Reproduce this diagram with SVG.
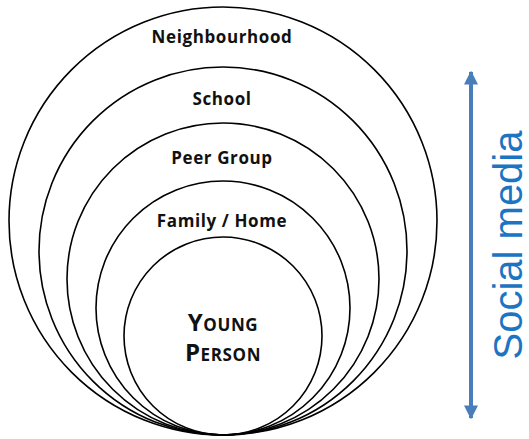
<svg xmlns="http://www.w3.org/2000/svg" width="529" height="439" viewBox="0 0 529 439">
<defs>
<style>
.ring{fill:none;stroke:#000;stroke-width:1.6}
.lbl{font-family:"Open Sans","DejaVu Sans",sans-serif;font-weight:700;font-size:17px;letter-spacing:0.6px;fill:#111;text-anchor:middle}
.sm{font-family:"Liberation Sans",Arial,sans-serif;font-size:40px;fill:#1b75c2;text-anchor:middle}
</style>
<marker id="ah" viewBox="0 0 10 10" refX="9" refY="5" markerWidth="3.5" markerHeight="3.5" orient="auto-start-reverse" markerUnits="strokeWidth">
<path d="M0,0 L10,5 L0,10 z" fill="#4a7ebb"/>
</marker>
</defs>
<rect width="529" height="439" fill="#fff"/>
<g id="neighbourhood"><circle class="ring" cx="223" cy="221" r="214"/><text class="lbl" x="222" y="43">Neighbourhood</text></g>
<g id="school"><circle class="ring" cx="223" cy="251" r="184"/><text class="lbl" x="222" y="105">School</text></g>
<g id="peer-group"><circle class="ring" cx="223" cy="279" r="156"/><text class="lbl" x="222" y="164">Peer Group</text></g>
<g id="family-home"><circle class="ring" cx="223" cy="308" r="127"/><text class="lbl" x="222" y="227">Family / Home</text></g>
<g id="young-person"><circle class="ring" cx="223" cy="336" r="99"/>
<text class="lbl" x="223" y="331" font-size="18"><tspan font-size="24">Y</tspan>OUNG</text>
<text class="lbl" x="223" y="361" font-size="18"><tspan font-size="24">P</tspan>ERSON</text></g>
<g id="connectors"><line x1="471" y1="72" x2="471" y2="418" stroke="#4a7ebb" stroke-width="4" marker-start="url(#ah)" marker-end="url(#ah)"/></g>
<g id="social-media"><text class="sm" transform="translate(522,245) rotate(-90)">Social media</text></g>
</svg>
